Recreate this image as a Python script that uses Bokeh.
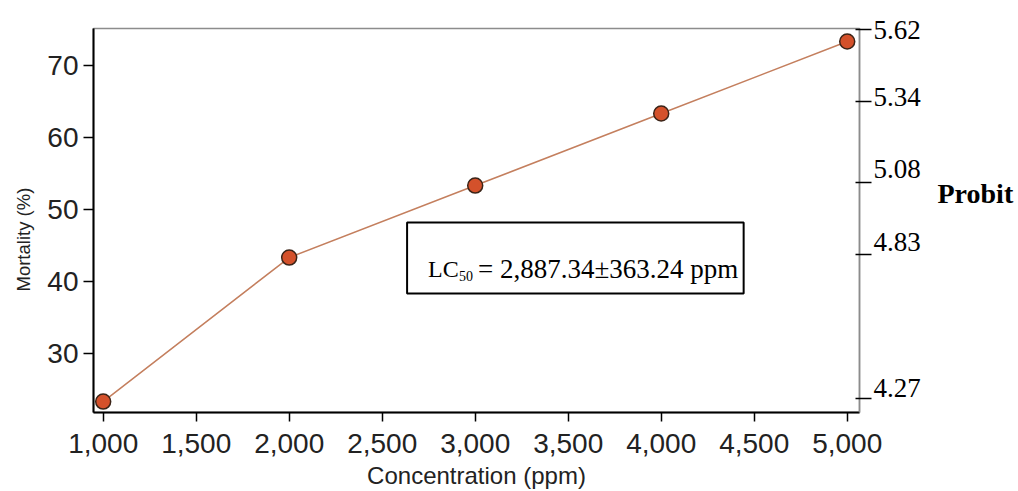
from bokeh.plotting import figure
from bokeh.models import (LinearAxis, FixedTicker, NumeralTickFormatter, Label,
                          BoxAnnotation, Range1d, Title)
from bokeh.embed import file_html
from bokeh.resources import INLINE

# Dose-response data
concentration = [1000, 2000, 3000, 4000, 5000]          # ppm
mortality = [23.33, 43.33, 53.33, 63.33, 73.33]          # %

x_ticks = [1000, 1500, 2000, 2500, 3000, 3500, 4000, 4500, 5000]
y_ticks = [30, 40, 50, 60, 70]

# Probit scale on the right, positioned on the mortality (%) scale
probit_labels = ["5.62", "5.34", "5.08", "4.83", "4.27"]
probit_at = [75.0, 65.04, 53.79, 43.75, 23.79]           # tick marks
probit_label_at = [75.0, 65.69, 55.63, 45.49, 25.21]     # label centres
probit_title_at = 52.22

lc50_text = "= 2,887.34\u00b1363.24 ppm"

# Page geometry (pixels)
W, H = 1018, 491
FL, FR, FT, FB = 92, 859, 28, 412
X0, X1 = 947.9, 5066.0
Y0, Y1 = 21.81, 75.14

SANS = "Liberation Sans"
SERIF = "Liberation Serif"


def dx(px):
    return X0 + (px - FL) / (FR - FL) * (X1 - X0)


def dy(py):
    return Y1 - (py - FT) / (FB - FT) * (Y1 - Y0)


p = figure(width=W, height=H, x_range=Range1d(X0, X1), y_range=Range1d(Y0, Y1),
           output_backend="svg", toolbar_location=None, title=None,
           min_border_left=FL, min_border_right=W - FR,
           min_border_top=FT, min_border_bottom=H - FB)
p.background_fill_color = "white"
p.border_fill_color = "white"
p.grid.visible = False
p.outline_line_color = "#8c8c8c"
p.outline_line_width = 1.5

# bottom axis
xa = p.xaxis[0]
xa.ticker = FixedTicker(ticks=x_ticks)
xa.formatter = NumeralTickFormatter(format="0,0")
xa.axis_label = "Concentration (ppm)"
xa.axis_label_text_font = SANS
xa.axis_label_text_font_size = "24px"
xa.axis_label_text_font_style = "normal"
xa.axis_label_text_color = "#222222"
xa.axis_label_standoff = 6
xa.major_label_text_font = SANS
xa.major_label_text_font_size = "28px"
xa.major_label_text_color = "#222222"
xa.major_label_standoff = 12
xa.major_tick_in = 0
xa.major_tick_out = 9
xa.major_tick_line_color = "black"
xa.major_tick_line_width = 1.5
xa.minor_tick_line_color = None
xa.axis_line_color = "black"
xa.axis_line_width = 2

# left axis
ya = p.yaxis[0]
ya.ticker = FixedTicker(ticks=y_ticks)
ya.major_label_text_font = SANS
ya.major_label_text_font_size = "28px"
ya.major_label_text_color = "#222222"
ya.major_label_standoff = 5
ya.major_tick_in = 0
ya.major_tick_out = 10
ya.major_tick_line_color = "black"
ya.major_tick_line_width = 1.5
ya.minor_tick_line_color = None
ya.axis_line_color = "black"
ya.axis_line_width = 2

# y-axis title, starting a little above the bottom of the frame
p.add_layout(Title(text="Mortality (%)", align="left", offset=121, standoff=21,
                   text_font=SANS, text_font_size="18.5px", text_font_style="normal",
                   text_color="#222222"), "left")

# right probit axis: marks as minor ticks, values as major labels
ra = LinearAxis(ticker=FixedTicker(ticks=probit_label_at, minor_ticks=probit_at))
ra.major_label_overrides = {v: t for v, t in zip(probit_label_at, probit_labels)}
ra.major_label_text_font = SERIF
ra.major_label_text_font_size = "27px"
ra.major_label_text_color = "black"
ra.major_label_standoff = 2
ra.major_tick_in = 0
ra.major_tick_out = 0
ra.major_tick_line_color = None
ra.minor_tick_in = 4
ra.minor_tick_out = 12
ra.minor_tick_line_color = "black"
ra.minor_tick_line_width = 1.5
ra.axis_line_color = "#8c8c8c"
ra.axis_line_width = 1.5
p.add_layout(ra, "right")

pa = LinearAxis(ticker=FixedTicker(ticks=[probit_title_at], minor_ticks=[]))
pa.major_label_overrides = {probit_title_at: "Probit"}
pa.major_label_text_font = SERIF
pa.major_label_text_font_size = "28px"
pa.major_label_text_font_style = "bold"
pa.major_label_text_color = "black"
pa.major_label_standoff = 14
pa.major_tick_in = 0
pa.major_tick_out = 0
pa.major_tick_line_color = None
pa.minor_tick_line_color = None
pa.axis_line_color = None
p.add_layout(pa, "right")

# curve and points
p.line(concentration, mortality, line_color="#c47f5e", line_width=1.5)
p.scatter(concentration, mortality, size=15, fill_color="#d4512b",
          line_color="#3b2418", line_width=1.5)

# LC50 annotation box
p.add_layout(BoxAnnotation(left=dx(406), right=dx(743), top=dy(222), bottom=dy(293),
                           fill_color="white", fill_alpha=1.0,
                           line_color="black", line_alpha=1.0, line_width=2))
p.add_layout(Label(x=dx(427), y=dy(268), text="LC", text_font=SERIF,
                   text_font_size="24px", text_color="black", text_baseline="alphabetic"))
p.add_layout(Label(x=dx(458), y=dy(275), text="50", text_font=SERIF,
                   text_font_size="14px", text_color="black", text_baseline="alphabetic"))
p.add_layout(Label(x=dx(477), y=dy(268), text=lc50_text, text_font=SERIF,
                   text_font_size="27px", text_color="black", text_baseline="alphabetic"))

open("out.html", "w").write(file_html(p, INLINE))
